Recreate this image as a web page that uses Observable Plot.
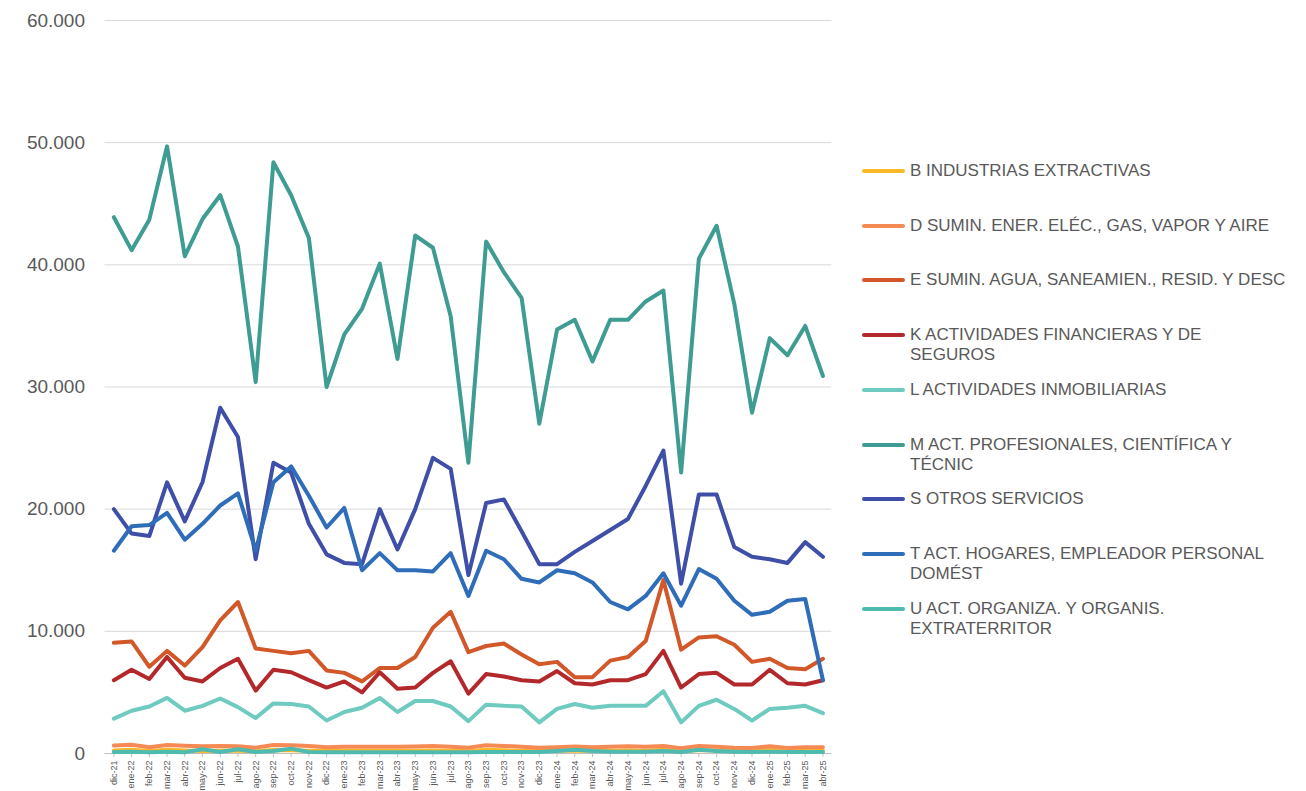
<!DOCTYPE html>
<html>
<head>
<meta charset="utf-8">
<script src="https://cdn.jsdelivr.net/npm/d3@7"></script>
<script src="https://cdn.jsdelivr.net/npm/@observablehq/plot@0.6"></script>
<style>
  html, body { margin: 0; padding: 0; background: #fff; }
  #wrap { position: relative; width: 1306px; height: 791px; font-family: "Liberation Sans", Arial, sans-serif; }
  #chart { position: absolute; left: 0; top: 0; }
  #legend { position: absolute; left: 862px; top: 0; width: 440px; }
  .item { position: absolute; left: 0; display: flex; align-items: flex-start; }
  .swatch { width: 43px; height: 4px; border-radius: 2px; margin-top: 8px; flex: none; }
  .lab { margin-left: 5px; font-size: 17px; line-height: 20px; color: #595959; letter-spacing: 0px; white-space: nowrap; }
</style>
</head>
<body>
<div id="wrap"><div id="chart"></div><div id="legend"></div></div>
<script>
const months = ["dic-21","ene-22","feb-22","mar-22","abr-22","may-22","jun-22","jul-22","ago-22","sep-22","oct-22","nov-22","dic-22","ene-23","feb-23","mar-23","abr-23","may-23","jun-23","jul-23","ago-23","sep-23","oct-23","nov-23","dic-23","ene-24","feb-24","mar-24","abr-24","may-24","jun-24","jul-24","ago-24","sep-24","oct-24","nov-24","dic-24","ene-25","feb-25","mar-25","abr-25"];

const seriesNames = [
  "B INDUSTRIAS EXTRACTIVAS",
  "D SUMIN. ENER. ELÉC., GAS, VAPOR Y AIRE",
  "E SUMIN. AGUA, SANEAMIEN., RESID. Y DESC",
  "K ACTIVIDADES FINANCIERAS Y DE SEGUROS",
  "L ACTIVIDADES INMOBILIARIAS",
  "M ACT. PROFESIONALES, CIENTÍFICA Y TÉCNIC",
  "S OTROS SERVICIOS",
  "T ACT. HOGARES, EMPLEADOR PERSONAL DOMÉST",
  "U ACT. ORGANIZA. Y ORGANIS. EXTRATERRITOR"
];
const legendLines = [
  ["B INDUSTRIAS EXTRACTIVAS"],
  ["D SUMIN. ENER. ELÉC., GAS, VAPOR Y AIRE"],
  ["E SUMIN. AGUA, SANEAMIEN., RESID. Y DESC"],
  ["K ACTIVIDADES FINANCIERAS Y DE", "SEGUROS"],
  ["L ACTIVIDADES INMOBILIARIAS"],
  ["M ACT. PROFESIONALES, CIENTÍFICA Y", "TÉCNIC"],
  ["S OTROS SERVICIOS"],
  ["T ACT. HOGARES, EMPLEADOR PERSONAL", "DOMÉST"],
  ["U ACT. ORGANIZA. Y ORGANIS.", "EXTRATERRITOR"]
];
const seriesColors = ["#FBB829","#F58A55","#D2582A","#B3282B","#6FCAC0","#3E9C92","#3F4FA8","#2F6DB8","#4DBBAF"];

const B = [250,300,200,300,250,200,220,220,180,280,260,230,200,220,220,220,220,230,250,220,180,300,260,220,200,220,240,220,230,250,230,300,190,280,250,220,200,300,210,230,230];
const D = [650,720,520,700,640,600,620,600,480,700,680,620,520,560,560,560,560,580,620,560,480,680,620,560,480,520,580,520,560,600,560,620,440,620,560,480,460,600,460,520,520];
const E = [9060,9170,7100,8400,7200,8700,10900,12400,8600,8400,8200,8400,6800,6600,5900,7000,7000,7900,10300,11600,8300,8800,9000,8100,7300,7500,6250,6250,7600,7900,9200,14200,8500,9500,9600,8900,7500,7750,7000,6900,7750];
const K = [6000,6850,6100,7900,6200,5900,7000,7750,5150,6850,6650,6000,5400,5900,5000,6650,5300,5400,6600,7550,4900,6500,6300,6000,5900,6750,5750,5650,6000,6000,6500,8400,5400,6500,6600,5650,5650,6850,5750,5650,6000];
const L = [2850,3500,3850,4550,3500,3900,4500,3800,2900,4100,4050,3850,2700,3400,3750,4550,3400,4300,4300,3850,2650,4000,3900,3850,2550,3650,4050,3750,3900,3900,3900,5100,2550,3900,4400,3650,2700,3650,3750,3900,3300];
const M = [43900,41200,43700,49700,40700,43750,45700,41500,30400,48400,45700,42200,30000,34300,36400,40100,32300,42400,41400,35800,23800,41900,39400,37300,27000,34700,35500,32100,35500,35500,37000,37900,23000,40500,43200,36800,27900,34000,32600,35000,30900];
const S = [20000,18000,17800,22200,19000,22200,28300,25900,15900,23800,23000,18800,16300,15600,15500,20000,16700,20000,24200,23300,14600,20500,20800,18200,15500,15500,16500,17400,18300,19200,21900,24800,13900,21200,21200,16900,16100,15900,15600,17300,16100];
const T = [16600,18600,18700,19700,17500,18800,20300,21300,16600,22200,23500,21100,18500,20100,15000,16400,15000,15000,14900,16400,12900,16600,15900,14300,14000,15000,14750,14000,12400,11800,12900,14750,12100,15100,14300,12500,11350,11600,12500,12650,6000];
const U = [120,150,100,140,100,350,120,350,120,200,400,120,100,100,100,100,100,100,100,100,100,120,120,120,120,200,300,200,150,150,150,200,120,300,200,150,120,150,120,120,120];

const yTicks = [0,10000,20000,30000,40000,50000,60000];

const seriesValues = [B, D, E, K, L, M, S, T, U];
const data = [];
seriesNames.forEach((name, si) => {
  seriesValues[si].forEach((v, i) => data.push({series: name, month: months[i], value: v}));
});

const loc = d3.formatLocale({decimal: ",", thousands: ".", grouping: [3], currency: ["", "€"]});
const fmt = loc.format(",");

const chart = Plot.plot({
  width: 850,
  height: 791,
  marginLeft: 104.5,
  marginRight: 18.7,
  marginTop: 20,
  marginBottom: 38,
  style: {fontFamily: "'Liberation Sans', Arial, sans-serif", background: "transparent"},
  x: {type: "point", domain: months, padding: 0.5, round: false},
  y: {domain: [0, 60000]},
  color: {domain: seriesNames, range: seriesColors},
  marks: [
    Plot.ruleY(yTicks.filter(d => d > 0), {stroke: "#d9d9d9", strokeWidth: 1}),
    Plot.ruleY([0], {stroke: "#bfbfbf", strokeWidth: 1}),
    Plot.axisY({ticks: yTicks, tickFormat: fmt, tickSize: 0, tickPadding: 20, fontSize: 19, fill: "#595959", label: null, style: {letterSpacing: "1.5px"}}),
    Plot.axisX({tickRotate: -90, tickSize: 4, tickPadding: 3, fontSize: 9, fill: "#595959", stroke: "#bfbfbf", label: null}),
    Plot.line(data, {x: "month", y: "value", z: "series", stroke: "series", strokeWidth: 4, strokeLinejoin: "round", strokeLinecap: "round"})
  ]
});
document.getElementById("chart").appendChild(chart);

const legend = document.getElementById("legend");
legendLines.forEach((lines, i) => {
  const item = document.createElement("div");
  item.className = "item";
  item.style.top = (171 + 54.7 * i - 10) + "px";
  const sw = document.createElement("div");
  sw.className = "swatch";
  sw.style.background = seriesColors[i];
  const lab = document.createElement("div");
  lab.className = "lab";
  lab.innerHTML = lines.join("<br>");
  item.appendChild(sw);
  item.appendChild(lab);
  legend.appendChild(item);
});
</script>
</body>
</html>
